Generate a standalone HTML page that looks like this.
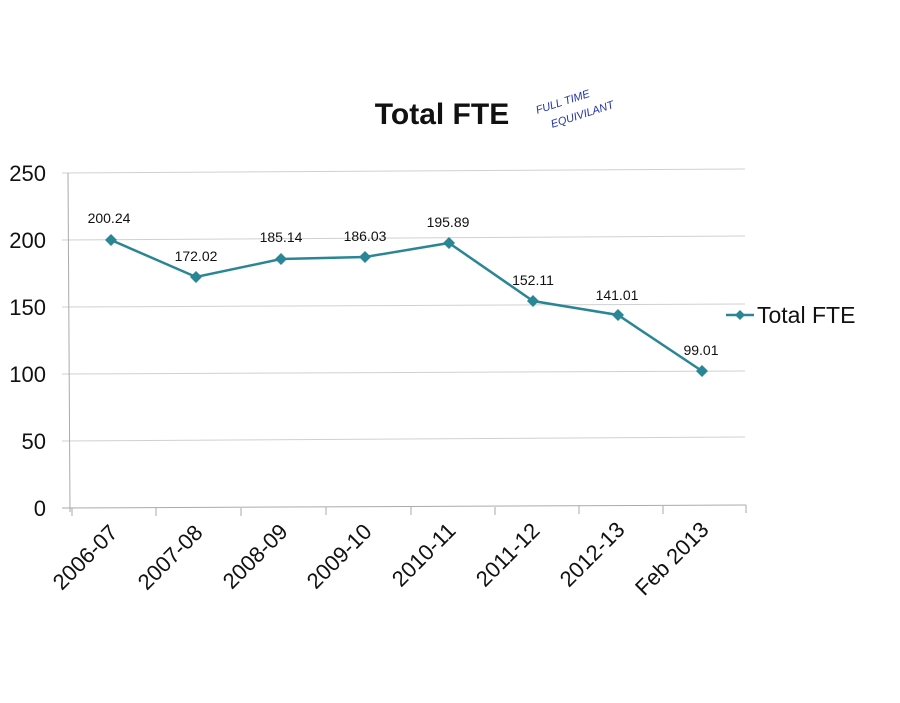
<!DOCTYPE html>
<html><head><meta charset="utf-8"><style>
html,body{margin:0;padding:0;background:#fff;}
svg{display:block;font-family:"Liberation Sans",sans-serif;}
</style></head><body>
<svg width="900" height="703" viewBox="0 0 900 703" xmlns="http://www.w3.org/2000/svg">
<rect width="900" height="703" fill="#fff"/>
<text x="442" y="124" font-size="30" font-weight="bold" text-anchor="middle" fill="#111">Total FTE</text>
<g fill="#2233aa" font-size="11" font-style="italic" transform="rotate(-18 580 100)">
<text x="535" y="100">FULL TIME</text><text x="545" y="118">EQUIVILANT</text></g>
<g stroke="#d0d0d0" stroke-width="1">
<line x1="62" y1="173" x2="745" y2="169"/>
<line x1="62" y1="240" x2="745" y2="236"/>
<line x1="62" y1="307" x2="745" y2="304"/>
<line x1="62" y1="374" x2="745" y2="371"/>
<line x1="62" y1="441" x2="745" y2="437"/>
</g>
<g stroke="#aaa" stroke-width="1">
<line x1="68" y1="173" x2="70" y2="512"/>
<line x1="62" y1="508" x2="746" y2="505"/>
<line x1="72" y1="508" x2="72" y2="516"/><line x1="156" y1="508" x2="156" y2="516"/>
<line x1="241" y1="508" x2="241" y2="516"/><line x1="326" y1="507" x2="326" y2="515"/>
<line x1="411" y1="507" x2="411" y2="515"/><line x1="495" y1="507" x2="495" y2="515"/>
<line x1="579" y1="506" x2="579" y2="514"/><line x1="663" y1="506" x2="663" y2="514"/>
<line x1="746" y1="505" x2="746" y2="513"/>
</g>
<g font-size="22" text-anchor="end" fill="#111">
<text x="46" y="181">250</text><text x="46" y="248">200</text><text x="46" y="315">150</text>
<text x="46" y="382">100</text><text x="46" y="449">50</text><text x="46" y="516">0</text>
</g>
<polyline fill="none" stroke="#2a8595" stroke-width="2.5" points="111,240 196,277 281,259 365,257 449,243 533,301 618,315 702,371"/>
<g fill="#2a8595">
<path d="M111,234 l6,6 -6,6 -6,-6z"/><path d="M196,271 l6,6 -6,6 -6,-6z"/>
<path d="M281,253 l6,6 -6,6 -6,-6z"/><path d="M365,251 l6,6 -6,6 -6,-6z"/>
<path d="M449,237 l6,6 -6,6 -6,-6z"/><path d="M533,295 l6,6 -6,6 -6,-6z"/>
<path d="M618,309 l6,6 -6,6 -6,-6z"/><path d="M702,365 l6,6 -6,6 -6,-6z"/>
</g>
<g font-size="14" text-anchor="middle" fill="#111">
<text x="109" y="223">200.24</text><text x="196" y="261">172.02</text>
<text x="281" y="242">185.14</text><text x="365" y="241">186.03</text>
<text x="448" y="227">195.89</text><text x="533" y="285">152.11</text>
<text x="617" y="300">141.01</text><text x="701" y="355">99.01</text>
</g>
<line x1="726" y1="315" x2="754" y2="315" stroke="#2a8595" stroke-width="2.5"/>
<path d="M740,310 l5,5 -5,5 -5,-5z" fill="#2a8595"/>
<text x="757" y="323" font-size="23" fill="#111">Total FTE</text>
<g font-size="22" text-anchor="end" fill="#111">
<text transform="translate(119,534) rotate(-45)">2006-07</text>
<text transform="translate(204,534) rotate(-45)">2007-08</text>
<text transform="translate(289,533) rotate(-45)">2008-09</text>
<text transform="translate(373,533) rotate(-45)">2009-10</text>
<text transform="translate(457,532) rotate(-45)">2010-11</text>
<text transform="translate(541,532) rotate(-45)">2011-12</text>
<text transform="translate(626,531) rotate(-45)">2012-13</text>
<text transform="translate(710,531) rotate(-45)">Feb 2013</text>
</g>
</svg>
</body></html>
